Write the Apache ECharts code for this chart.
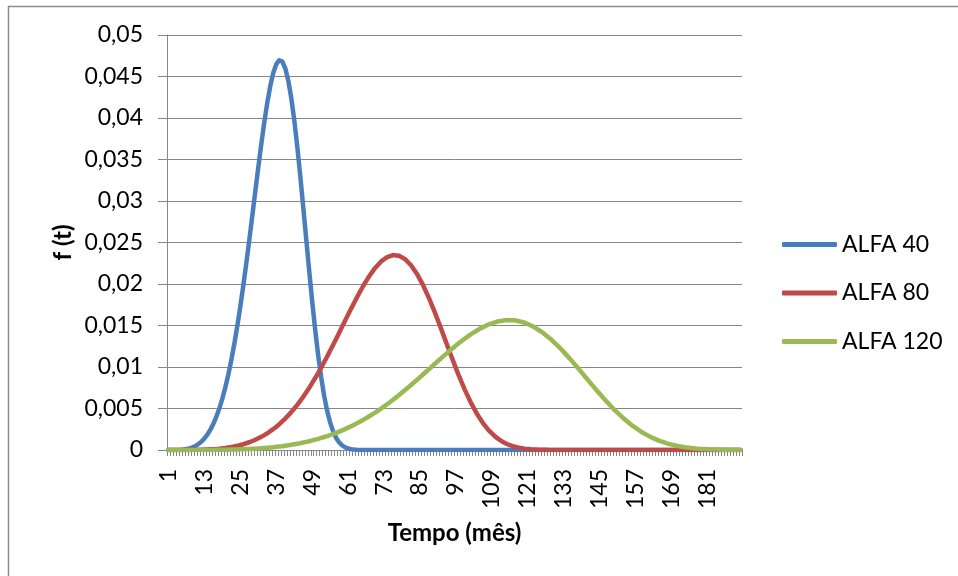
<!DOCTYPE html>
<html>
<head>
<meta charset="utf-8">
<script src="https://cdn.jsdelivr.net/npm/echarts@6/dist/echarts.min.js"></script>
<style>
  html, body { margin: 0; padding: 0; background: #fff; }
  #chart { width: 958px; height: 576px; }
</style>
</head>
<body>
<div id="chart"></div>
<script>
// meses 1..192
var meses = [
  1, 2, 3, 4, 5, 6, 7, 8, 9, 10, 11, 12, 13, 14, 15, 16, 17, 18, 19, 20, 21, 22, 23, 24,
  25, 26, 27, 28, 29, 30, 31, 32, 33, 34, 35, 36, 37, 38, 39, 40, 41, 42, 43, 44, 45, 46, 47, 48,
  49, 50, 51, 52, 53, 54, 55, 56, 57, 58, 59, 60, 61, 62, 63, 64, 65, 66, 67, 68, 69, 70, 71, 72,
  73, 74, 75, 76, 77, 78, 79, 80, 81, 82, 83, 84, 85, 86, 87, 88, 89, 90, 91, 92, 93, 94, 95, 96,
  97, 98, 99, 100, 101, 102, 103, 104, 105, 106, 107, 108, 109, 110, 111, 112, 113, 114, 115, 116, 117, 118, 119, 120,
  121, 122, 123, 124, 125, 126, 127, 128, 129, 130, 131, 132, 133, 134, 135, 136, 137, 138, 139, 140, 141, 142, 143, 144,
  145, 146, 147, 148, 149, 150, 151, 152, 153, 154, 155, 156, 157, 158, 159, 160, 161, 162, 163, 164, 165, 166, 167, 168,
  169, 170, 171, 172, 173, 174, 175, 176, 177, 178, 179, 180, 181, 182, 183, 184, 185, 186, 187, 188, 189, 190, 191, 192
];

var nomes = ['ALFA 40', 'ALFA 80', 'ALFA 120'];

var alfa40 = [
  0, 0.000001, 0.000004, 0.000013, 0.000031, 0.000063, 0.000117, 0.0002, 0.00032, 0.000488,
  0.000714, 0.00101, 0.00139, 0.001866, 0.002454, 0.003167, 0.004022, 0.005032, 0.006211, 0.007572,
  0.009125, 0.010877, 0.012832, 0.014988, 0.017338, 0.019869, 0.022557, 0.02537, 0.028267, 0.031196,
  0.034096, 0.036894, 0.039512, 0.041867, 0.043873, 0.04544, 0.046492, 0.046962, 0.046803, 0.045985,
  0.044506, 0.0424, 0.039725, 0.036562, 0.033025, 0.029254, 0.025371, 0.021527, 0.017839, 0.014423,
  0.011367, 0.008714, 0.006487, 0.004685, 0.003276, 0.002216, 0.001446, 0.000909, 0.000549, 0.000319,
  0.000177, 0.000094, 0.000048, 0.000023, 0.00001, 0, 0, 0, 0, 0,
  0, 0, 0, 0, 0, 0, 0, 0, 0, 0,
  0, 0, 0, 0, 0, 0, 0, 0, 0, 0,
  0, 0, 0, 0, 0, 0, 0, 0, 0, 0,
  0, 0, 0, 0, 0, 0, 0, 0, 0, 0,
  0, 0, 0, 0, 0, 0, 0, 0, 0, 0,
  0, 0, 0, 0, 0, 0, 0, 0, 0, 0,
  0, 0, 0, 0, 0, 0, 0, 0, 0, 0,
  0, 0, 0, 0, 0, 0, 0, 0, 0, 0,
  0, 0, 0, 0, 0, 0, 0, 0, 0, 0,
  0, 0, 0, 0, 0, 0, 0, 0, 0, 0,
  0, 0, 0, 0, 0, 0, 0, 0, 0, 0,
  0, 0, 0, 0, 0, 0, 0, 0, 0, 0,
  0, 0
];

var alfa80 = [
  0, 0, 0, 0, 0.000001, 0.000002, 0.000004, 0.000006, 0.000011, 0.000016,
  0.000024, 0.000032, 0.000046, 0.000059, 0.00008, 0.0001, 0.00013, 0.00016, 0.000202, 0.000244,
  0.0003, 0.000357, 0.000431, 0.000505, 0.0006, 0.000695, 0.000814, 0.000933, 0.00108, 0.001227,
  0.001406, 0.001584, 0.001798, 0.002011, 0.002264, 0.002516, 0.002811, 0.003106, 0.003446, 0.003786,
  0.004175, 0.004563, 0.005001, 0.005439, 0.005928, 0.006416, 0.006955, 0.007494, 0.008082, 0.008669,
  0.009302, 0.009935, 0.010607, 0.011279, 0.011982, 0.012685, 0.01341, 0.014134, 0.014866, 0.015598,
  0.016323, 0.017048, 0.017748, 0.018447, 0.019102, 0.019756, 0.020345, 0.020934, 0.021436, 0.021937,
  0.022329, 0.02272, 0.022983, 0.023246, 0.023364, 0.023481, 0.023442, 0.023402, 0.023198, 0.022993,
  0.022623, 0.022253, 0.021727, 0.0212, 0.020532, 0.019863, 0.019072, 0.018281, 0.017397, 0.016513,
  0.01557, 0.014627, 0.013657, 0.012686, 0.011725, 0.010764, 0.009842, 0.00892, 0.008066, 0.007212,
  0.006448, 0.005684, 0.005021, 0.004357, 0.003801, 0.003244, 0.002794, 0.002343, 0.001991, 0.001638,
  0.001373, 0.001108, 0.000916, 0.000723, 0.000589, 0.000455, 0.000365, 0.000275, 0.000218, 0.00016,
  0.000125, 0.000089, 0.000068, 0.000047, 0.000036, 0.000024, 0.000018, 0.000012, 0.000009, 0.000005,
  0.000002, 0, 0, 0, 0, 0, 0, 0, 0, 0,
  0, 0, 0, 0, 0, 0, 0, 0, 0, 0,
  0, 0, 0, 0, 0, 0, 0, 0, 0, 0,
  0, 0, 0, 0, 0, 0, 0, 0, 0, 0,
  0, 0, 0, 0, 0, 0, 0, 0, 0, 0,
  0, 0, 0, 0, 0, 0, 0, 0, 0, 0,
  0, 0
];

var alfa120 = [
  0, 0, 0, 0, 0, 0, 0, 0.000001, 0.000001, 0.000002,
  0.000003, 0.000004, 0.000006, 0.000008, 0.00001, 0.000014, 0.000017, 0.000021, 0.000027, 0.000033,
  0.000039, 0.000048, 0.000058, 0.000067, 0.00008, 0.000094, 0.000107, 0.000126, 0.000144, 0.000163,
  0.000188, 0.000213, 0.000238, 0.000271, 0.000304, 0.000337, 0.000379, 0.000421, 0.000463, 0.000516,
  0.000569, 0.000622, 0.000687, 0.000753, 0.000818, 0.000897, 0.000977, 0.001056, 0.001151, 0.001246,
  0.001341, 0.001453, 0.001565, 0.001677, 0.001808, 0.001939, 0.00207, 0.002221, 0.002373, 0.002524,
  0.002697, 0.002869, 0.003042, 0.003237, 0.003431, 0.003626, 0.003843, 0.00406, 0.004277, 0.004517,
  0.004756, 0.004996, 0.005257, 0.005518, 0.005779, 0.00606, 0.006342, 0.006623, 0.006922, 0.00722,
  0.007519, 0.007832, 0.008144, 0.008457, 0.008779, 0.0091, 0.009422, 0.009748, 0.010073, 0.010399,
  0.010721, 0.011043, 0.011365, 0.011676, 0.011987, 0.012298, 0.012589, 0.01288, 0.013171, 0.013433,
  0.013694, 0.013956, 0.014179, 0.014401, 0.014624, 0.014798, 0.014973, 0.015147, 0.015264, 0.01538,
  0.015497, 0.015549, 0.015602, 0.015654, 0.015636, 0.015619, 0.015601, 0.01551, 0.015419, 0.015328,
  0.015164, 0.014999, 0.014835, 0.014601, 0.014367, 0.014133, 0.013836, 0.013539, 0.013242, 0.01289,
  0.012539, 0.012187, 0.011794, 0.011401, 0.011008, 0.010589, 0.01017, 0.009751, 0.00932, 0.008888,
  0.008457, 0.00803, 0.007603, 0.007176, 0.006766, 0.006356, 0.005946, 0.005567, 0.005187, 0.004808,
  0.004468, 0.004129, 0.003789, 0.003494, 0.0032, 0.002905, 0.002657, 0.00241, 0.002162, 0.001962,
  0.001762, 0.001562, 0.001405, 0.001249, 0.001092, 0.000974, 0.000857, 0.000739, 0.000653, 0.000568,
  0.000482, 0.000422, 0.000363, 0.000303, 0.000263, 0.000223, 0.000183, 0.000157, 0.000132, 0.000106,
  0.00009, 0.000075, 0.000059, 0.000049, 0.00004, 0.000031, 0.000026, 0.000021, 0.000016, 0.000013,
  0.000011, 0.000008
];

var cores = ['#4A7EBB', '#BE4B48', '#98B954'];
var cinza = '#868686';
var fonte = 'Lato, "Liberation Sans", sans-serif';

var myChart = echarts.init(document.getElementById('chart'));

// uma serie de linha por alfa
function linha(nome, dados, cor) {
  return {
    name: nome,
    type: 'line',
    data: dados,
    showSymbol: false,
    symbol: 'none',
    smooth: false,
    lineStyle: { color: cor, width: 4.5, cap: 'round', join: 'round' },
    itemStyle: { color: cor }
  };
}

var option = {
  animation: false,
  backgroundColor: '#fff',
  textStyle: { fontFamily: fonte },
  graphic: [
    {
      type: 'rect',
      shape: { x: 8.5, y: 6.5, width: 980, height: 600 },
      style: { fill: 'none', stroke: '#8c8c8c', lineWidth: 1.5 },
      silent: true
    }
  ],
  grid: { left: 167, right: 216, top: 35, bottom: 126 },
  legend: {
    orient: 'vertical',
    left: 777,
    top: 228,
    itemGap: 25.5,
    itemWidth: 55,
    itemHeight: 5,
    icon: 'roundRect',
    data: nomes,
    textStyle: { fontFamily: fonte, fontSize: 23, color: '#000' }
  },
  xAxis: {
    type: 'category',
    data: meses,
    boundaryGap: true,
    name: 'Tempo (mês)',
    nameLocation: 'middle',
    nameGap: 71,
    nameMoveOverlap: false,
    nameTextStyle: { fontFamily: fonte, fontSize: 24, fontWeight: 'bold', color: '#000' },
    axisLine: { lineStyle: { color: cinza, width: 1 } },
    axisTick: { show: true, interval: 0, length: 6, lineStyle: { color: cinza } },
    axisLabel: {
      interval: 11,
      rotate: 90,
      margin: 19,
      fontFamily: fonte,
      fontSize: 23,
      color: '#000'
    },
    splitLine: { show: false }
  },
  yAxis: {
    type: 'value',
    min: 0,
    max: 0.05,
    interval: 0.005,
    name: 'f (t)',
    nameLocation: 'middle',
    nameGap: 92,
    nameMoveOverlap: false,
    nameTextStyle: { fontFamily: fonte, fontSize: 24, fontWeight: 'bold', color: '#000' },
    axisLine: { show: true, lineStyle: { color: cinza, width: 1 } },
    axisTick: { show: true, length: 9, lineStyle: { color: cinza } },
    axisLabel: {
      margin: 24,
      fontFamily: fonte,
      fontSize: 23,
      color: '#000',
      formatter: function (v) { return String(+v.toFixed(3)).replace('.', ','); }
    },
    splitLine: { show: true, lineStyle: { color: cinza, width: 1 } }
  },
  series: [
    linha(nomes[0], alfa40, cores[0]),
    linha(nomes[1], alfa80, cores[1]),
    linha(nomes[2], alfa120, cores[2])
  ]
};

option && myChart.setOption(option);
</script>
</body>
</html>
